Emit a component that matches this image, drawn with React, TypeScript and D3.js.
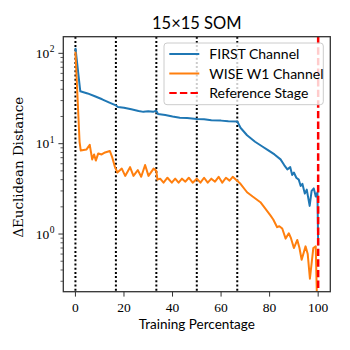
import React from 'react';
import * as d3 from 'd3';

// values
const firstX = [0, 2, 5, 8, 11, 14, 16.7, 17.5, 20, 23, 26, 28, 30, 32, 33.3, 34, 37, 40, 43, 46, 50, 53, 56, 60, 63, 66.7,
  68, 70.7, 74, 77, 79, 82, 84.5, 86, 87.3, 88.5, 89.3, 90, 91, 92, 92.8, 93.5, 94.5, 95.3, 96.5, 97.3, 98.2, 99, 99.7, 100];
const firstY = [115, 38, 36, 33.5, 31, 28.5, 26.5, 25.5, 25, 24, 23, 22.5, 22.8, 22.5, 23.2, 21.3, 20.8, 20, 19.4, 19.2, 18.8, 18.6, 18.2, 18, 17.7, 17.6,
  15, 12.4, 10.5, 9.3, 8.6, 7.6, 6.7, 5.8, 5.2, 5.5, 4.5, 4.8, 4.2, 4.0, 3.4, 3.6, 2.8, 3.1, 2.05, 3.0, 3.2, 2.6, 2.9, 0.75];

const wiseX = [0, 1.7, 2.2, 4.5, 5.9, 6.9, 7.7, 8.4, 9.4, 10.8, 12.2, 14.2, 15.2, 16.3, 17.3, 19.1, 20.5, 22.5, 23.9, 25.7, 27.1, 28.7, 30.1, 32.2, 33.3,
  33.8, 34.9, 36.3, 37.9, 39.7, 41.1, 42.5, 43.9, 45.3, 46.7, 48.3, 50, 51.5, 53, 54.5, 56, 57.5, 59, 60.5, 62, 63.5, 64.8, 66.6,
  68, 70.7, 73, 76.2, 78, 80.4, 81.5, 83.1, 84, 85.2, 86.6, 87.9, 88.8, 90, 91.4, 92.3, 93.2, 94.8, 95.7, 96.6, 98, 99, 99.6];
const wiseY = [104, 10.5, 8.4, 8.6, 9.7, 6.7, 7.6, 6.5, 7.8, 7.6, 8.0, 8.3, 7.0, 5.5, 4.8, 5.3, 4.4, 5.5, 4.4, 5.1, 4.3, 5.8, 4.4, 5.3, 5.0,
  4.0, 4.1, 3.7, 4.2, 3.7, 4.1, 3.7, 4.1, 3.8, 4.2, 3.7, 4.1, 3.7, 4.2, 3.7, 4.1, 3.8, 4.3, 3.7, 4.2, 3.9, 4.3, 3.9,
  3.6, 2.9, 2.6, 2.25, 1.95, 1.6, 1.45, 1.19, 1.22, 1.15, 0.89, 1.02, 0.9, 0.70, 0.86, 0.7, 0.52, 0.73, 0.6, 0.32, 0.70, 0.73, 0.15];

const stageLines = [0, 16.67, 33.33, 50, 66.67];
const referenceStage = 100;
const xTicks = [0, 20, 40, 60, 80, 100];
const yTicks = [0, 1, 2];

const legendItems = [
  { label: 'FIRST Channel', color: '#1f77b4', dash: '' },
  { label: 'WISE W1 Channel', color: '#ff7f0e', dash: '' },
  { label: 'Reference Stage', color: '#ff0000', dash: '7.4,3.2' },
];

const serif = "'DejaVu Serif', serif";
const tickSerif = "'Liberation Serif', serif";
const sans = "Lato, 'DejaVu Sans', sans-serif";

const App = () => {
  const left = 63.3, right = 330.3, top = 36.7, bottom = 291.7;
  const x = d3.scaleLinear().domain([-5, 105]).range([left, right]);
  const y = d3.scaleLog().domain([0.23, 152.8]).range([bottom, top]);

  const line = d3.line<[number, number]>().x(d => x(d[0])).y(d => y(d[1]));
  const firstPath = line(firstX.map((v, i) => [v, firstY[i]]));
  const wisePath = line(wiseX.map((v, i) => [v, wiseY[i]]));

  const minor: number[] = [];
  [-1, 0, 1, 2].forEach(k => {
    for (let m = 2; m <= 9; m++) {
      const v = m * Math.pow(10, k);
      if (v >= 0.23 && v <= 152.8) minor.push(v);
    }
  });

  const spine = '#333';

  return (
    <svg width={350} height={350} style={{ position: 'absolute', left: 0, top: 0, background: '#fff' }}>
      <defs>
        <clipPath id="plot"><rect x={left} y={top} width={right - left} height={bottom - top} /></clipPath>
      </defs>

      <g clipPath="url(#plot)">
        {stageLines.map(s => (
          <line key={s} x1={x(s)} x2={x(s)} y1={top} y2={bottom} stroke="#000" strokeWidth={2} strokeDasharray="2,2.2" />
        ))}
        <path d={firstPath ?? ''} fill="none" stroke="#1f77b4" strokeWidth={2} strokeLinejoin="round" />
        <path d={wisePath ?? ''} fill="none" stroke="#ff7f0e" strokeWidth={2} strokeLinejoin="round" />
        <line x1={x(referenceStage)} x2={x(referenceStage)} y1={top} y2={bottom} stroke="#ff0000" strokeWidth={2.5} strokeDasharray="7.4,3.2" />
      </g>

      {/* spines */}
      <rect x={left} y={top} width={right - left} height={bottom - top} fill="none" stroke={spine} strokeWidth={1.3} />

      {/* x axis */}
      {xTicks.map(t => (
        <g key={t}>
          <line x1={x(t)} x2={x(t)} y1={bottom} y2={bottom + 4.9} stroke={spine} strokeWidth={1} />
          <text x={x(t)} y={312.3} textAnchor="middle" fontFamily={tickSerif} fontSize={13.5}>{t}</text>
        </g>
      ))}
      <text x={(left + right) / 2} y={329.3} textAnchor="middle" fontFamily={sans} fontSize={13.5}>Training Percentage</text>

      {/* y axis */}
      {yTicks.map(k => (
        <g key={k}>
          <line x1={left - 4.9} x2={left} y1={y(Math.pow(10, k))} y2={y(Math.pow(10, k))} stroke={spine} strokeWidth={1} />
          <text x={left - 14} y={y(Math.pow(10, k)) + 4.5} textAnchor="end" fontFamily={tickSerif} fontSize={13.5}>10</text>
          <text x={left - 13.5} y={y(Math.pow(10, k)) - 1} textAnchor="start" fontFamily={tickSerif} fontSize={9.5}>{k}</text>
        </g>
      ))}
      {minor.map(v => (
        <line key={v} x1={left - 2.8} x2={left} y1={y(v)} y2={y(v)} stroke={spine} strokeWidth={0.8} />
      ))}
      <text transform={`translate(23,${(top + bottom) / 2 + 3}) rotate(-90)`} textAnchor="middle" fontFamily={serif} fontSize={13.4}>
        ΔEuclidean Distance
      </text>

      {/* title */}
      <text x={(left + right) / 2} y={29} textAnchor="middle" fontFamily={sans} fontSize={16.5}>15×15 SOM</text>

      {/* legend */}
      <rect x={164} y={43} width={159.3} height={61.7} rx={3} fill="#fff" fillOpacity={0.8} stroke="#ccc" strokeWidth={1} />
      {legendItems.map((it, i) => {
        const cy = 54 + i * 19.5;
        return (
          <g key={it.label}>
            <line x1={169.3} x2={199.3} y1={cy} y2={cy} stroke={it.color} strokeWidth={2} strokeDasharray={it.dash || undefined} />
            <text x={209.3} y={cy + 5} fontFamily={sans} fontSize={14}>{it.label}</text>
          </g>
        );
      })}
    </svg>
  );
};

export default App;
